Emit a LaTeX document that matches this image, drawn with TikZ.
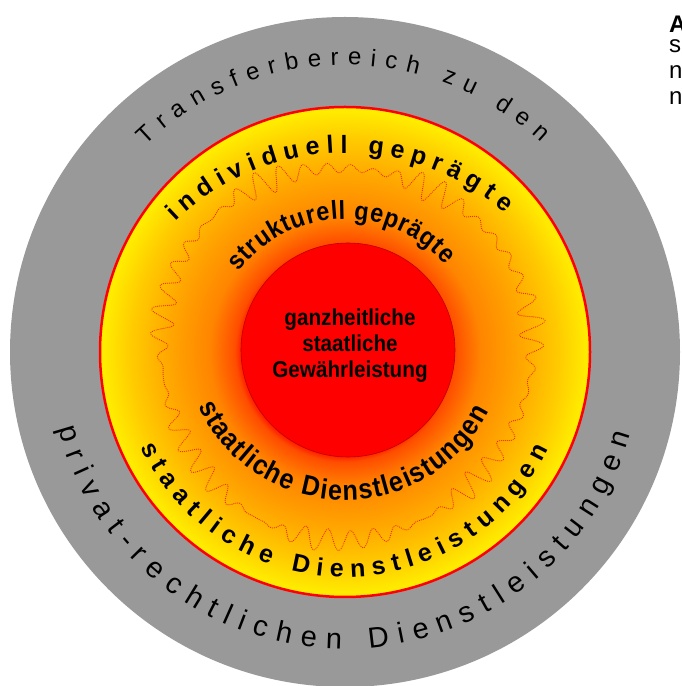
\documentclass[tikz,border=0pt]{standalone}
\usepackage{fontspec}
\setmainfont{Liberation Sans}
\newfontfamily\narrowface{Liberation Sans}[FakeStretch=0.9]
\usetikzlibrary{calc,decorations.text}
\definecolor{ringgray}{HTML}{999999}
\definecolor{wavered}{rgb}{0.92,0.15,0.08}
\definecolor{glowa}{rgb}{1,0.30,0}
\definecolor{glowb}{rgb}{1,0.52,0}
\definecolor{glowc}{rgb}{1,0.65,0}
\definecolor{glowd}{rgb}{1,0.80,0}
\definecolor{glowe}{rgb}{1,0.94,0}
\pgfdeclareradialshading{glow}{\pgfpointorigin}{color(0bp)=(red); color(10.2bp)=(red); color(11.2bp)=(glowa); color(13.8bp)=(glowb); color(17.9bp)=(glowc); color(21.9bp)=(glowd); color(25bp)=(glowe); color(50bp)=(glowe)}
\def\arctext[#1](#2)(#3:#4:#5)#6{\path[decorate,decoration={text along path,text align={fit to path},text={#6},#1}] ($(#2)+({#5*cos(#3)},{#5*sin(#3)})$) arc (#3:#4:#5);}

\begin{document}
\begin{tikzpicture}[x=1pt,y=1pt]
			%%%%% START %%%%%
			\fill[white] (0,0) rectangle (681,686);
			\useasboundingbox (0,0) rectangle (681,686);

			\coordinate (mid) at (345,334);
			\coordinate (arch) at (345,289);
			\coordinate (sag) at (345,348);

			% rings
			\fill[ringgray] (mid) circle (335);
			\shade[shading=glow] (mid) circle (245);
			\draw[red, line width=2.5] (mid) circle (245);

			\draw[color=wavered, line width=1.2, line cap=round, dash pattern=on 0pt off 2pt]
				plot[domain=0:360, samples=1201, variable=\t]
				({345+(186+3*sin(3*\t+40)+(7+5*sin(7*\t+20)+2*sin(13*\t))*sin(10*mod(5*\t,36)))*cos(\t)},
				 {334+(186+3*sin(3*\t+40)+(7+5*sin(7*\t+20)+2*sin(13*\t))*sin(10*mod(5*\t,36)))*sin(\t)}) -- cycle;

			\draw[fill=red, draw=red!75!black, line width=0.6] (348,336) circle (107);

			% texts
			\arctext[](mid)(134:47:287){|\fontsize{24}{26}\selectfont|Transferbereich zu den}
			\arctext[](mid)(195:344:297){|\fontsize{29}{31}\selectfont|privat-rechtlichen Dienstleistungen}
			\arctext[](arch)(134:49:244){|\bfseries\fontsize{25}{27}\selectfont|individuell geprägte}
			\arctext[](mid)(205:334.5:225){|\bfseries\fontsize{25}{27}\selectfont|staatliche Dienstleistungen}
			\arctext[](mid)(143:41:133){|\narrowface\bfseries\fontsize{26}{28}\selectfont|strukturell geprägte}
			\arctext[](sag)(205:333:162){|\narrowface\bfseries\fontsize{28}{30}\selectfont|staatliche Dienstleistungen}

			\node[align=center, inner sep=0, font=\narrowface\bfseries\fontsize{23}{26}\selectfont] (core) at (350,340) {ganzheitliche\\staatliche\\Gewährleistung};

			% cut-off text at the margin
			\node[anchor=base west, inner sep=0, font=\bfseries\fontsize{24}{26}\selectfont] (capa) at (669,653) {A};
			\node[anchor=base west, inner sep=0, font=\fontsize{24}{26}\selectfont] (line1) at (669,633) {s};
			\node[anchor=base west, inner sep=0, font=\fontsize{24}{26}\selectfont] (line2) at (669,607) {n};
			\node[anchor=base west, inner sep=0, font=\fontsize{24}{26}\selectfont] (line3) at (669,581) {n};
			%%%%% END %%%%%
\end{tikzpicture}
\end{document}
